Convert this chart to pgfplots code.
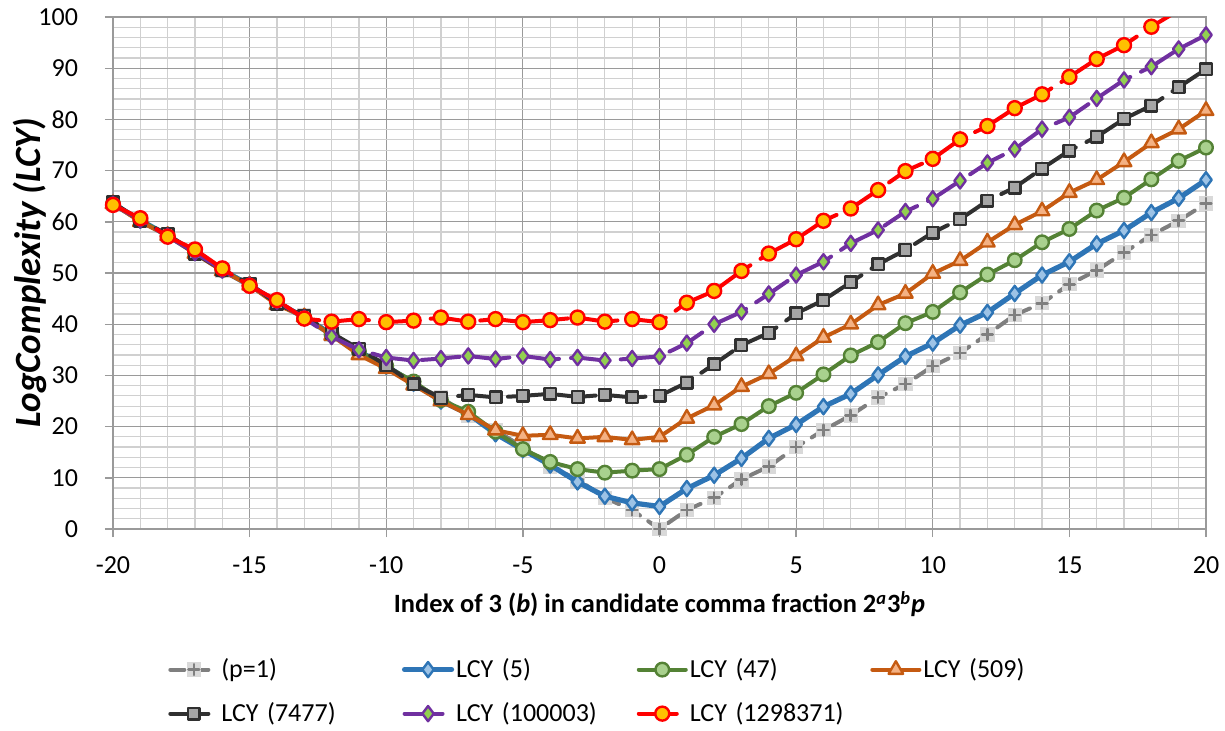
\documentclass[border=0pt]{standalone}
\usepackage{fontspec}
\setmainfont{Carlito}
\usepackage{pgfplots}
\pgfplotsset{compat=1.18}

\definecolor{cGray}{HTML}{7F7F7F}
\definecolor{cGrayF}{HTML}{D9D9D9}
\definecolor{cBlue}{HTML}{2E75B6}
\definecolor{cBlueF}{HTML}{9DC3E6}
\definecolor{cGreen}{HTML}{548235}
\definecolor{cGreenF}{HTML}{A9D18E}
\definecolor{cOrange}{HTML}{C55A11}
\definecolor{cOrangeF}{HTML}{F4B183}
\definecolor{cBlack}{HTML}{303030}
\definecolor{cBlackF}{HTML}{A6A6A6}
\definecolor{cPurple}{HTML}{7030A0}
\definecolor{cPurpleF}{HTML}{92D050}
\definecolor{cRed}{HTML}{FF0000}
\definecolor{cRedF}{HTML}{FFC000}
\definecolor{gridMajor}{HTML}{9A9A9A}
\definecolor{gridMinor}{HTML}{D0D0D0}

\pgfdeclareplotmark{boxplus}{%
  \pgfpathrectangle{\pgfpoint{-\pgfplotmarksize}{-\pgfplotmarksize}}{\pgfpoint{2\pgfplotmarksize}{2\pgfplotmarksize}}%
  \pgfsetfillcolor{cGrayF}%
  \pgfusepathqfill
  \pgfpathmoveto{\pgfpoint{-0.75\pgfplotmarksize}{0pt}}\pgfpathlineto{\pgfpoint{0.75\pgfplotmarksize}{0pt}}%
  \pgfpathmoveto{\pgfpoint{0pt}{-0.75\pgfplotmarksize}}\pgfpathlineto{\pgfpoint{0pt}{0.75\pgfplotmarksize}}%
  \pgfusepathqstroke
}

\pgfplotstableread{
b p1 c5 c47 c509 c7477 c100003 c1298371
-20 63.6 63.5 63.5 63.5 63.8 63.4 63.3
-19 60.2 60.3 60.3 60.0 60.2 60.4 60.7
-18 57.4 57.3 57.3 57.3 57.6 57.2 57.1
-17 54.0 54.0 54.0 53.8 53.8 54.0 54.6
-16 50.5 50.6 50.6 50.4 50.6 50.6 50.9
-15 47.8 47.6 47.6 47.6 47.9 47.6 47.5
-14 44.1 44.3 44.3 43.8 44.0 44.5 44.7
-13 41.8 41.3 41.3 41.4 41.6 41.2 41.1
-12 38.0 38.0 38.0 37.8 38.3 37.6 40.5
-11 34.4 34.7 34.7 34.0 35.2 35.0 41.0
-10 31.8 31.8 31.8 31.3 32.0 33.5 40.4
-9 28.3 28.5 28.8 28.1 28.3 32.9 40.7
-8 25.7 25.0 25.2 25.0 25.6 33.3 41.3
-7 22.2 22.5 22.9 22.3 26.2 33.8 40.5
-6 19.3 18.6 19.0 19.3 25.7 33.2 41.0
-5 16.0 15.5 15.6 18.2 26.0 33.8 40.4
-4 12.2 12.5 13.1 18.4 26.4 33.1 40.8
-3 9.7 9.2 11.7 17.7 25.8 33.5 41.3
-2 6.1 6.4 11.0 18.0 26.2 32.9 40.5
-1 3.7 5.1 11.4 17.4 25.7 33.3 41.0
0 0.0 4.4 11.7 18.0 26.0 33.7 40.4
1 3.7 7.9 14.5 21.6 28.6 36.3 44.2
2 6.1 10.5 18.0 24.2 32.2 40.0 46.5
3 9.7 13.8 20.5 27.8 35.9 42.4 50.4
4 12.2 17.7 24.0 30.3 38.3 45.9 53.8
5 16.0 20.4 26.6 33.8 42.1 49.6 56.6
6 19.3 23.9 30.2 37.4 44.7 52.2 60.2
7 22.2 26.4 33.9 40.0 48.2 55.8 62.6
8 25.7 30.1 36.5 43.75 51.7 58.4 66.2
9 28.3 33.7 40.2 46.0 54.5 62.0 69.9
10 31.8 36.3 42.4 49.9 57.9 64.5 72.3
11 34.4 39.8 46.2 52.4 60.5 68.0 76.1
12 38.0 42.3 49.7 56.0 64.1 71.5 78.7
13 41.8 46.0 52.5 59.4 66.7 74.2 82.2
14 44.1 49.6 56.0 62.1 70.4 78.1 84.9
15 47.8 52.2 58.6 65.7 73.9 80.4 88.3
16 50.5 55.7 62.2 68.2 76.6 84.1 91.8
17 54.0 58.3 64.7 71.7 80.1 87.7 94.5
18 57.4 61.8 68.3 75.4 82.7 90.3 98.1
19 60.2 64.6 71.9 78.1 86.3 93.75 101.3
20 63.6 68.2 74.5 81.7 89.8 96.5 104.6
}\datatable

\begin{document}
\begin{tikzpicture}
\begin{axis}[
  at={(0pt,0pt)}, anchor=south west,
  scale only axis,
  width=546.5pt, height=256pt,
  xmin=-20, xmax=20, ymin=0, ymax=100,
  xtick={-20,-15,...,20},
  ytick={0,10,...,100},
  minor x tick num=4,
  minor y tick num=4,
  grid=both,
  major grid style={draw=gridMajor, line width=0.6pt},
  minor grid style={draw=gridMinor, line width=0.6pt},
  axis line style={draw=gridMajor, line width=0.7pt},
  tick align=outside,
  major tick length=4pt,
  minor tick length=0pt,
  tick style={draw=gridMajor, line width=0.7pt},
  xtick pos=bottom, ytick pos=left,
  /pgf/number format/assume math mode=true,
  tick label style={font=\fontsize{13}{15}\selectfont},
  xticklabel style={yshift=-6.5pt},
  yticklabel style={xshift=-10pt},
  every axis y label/.style={at={(axis description cs:-0.0759,0.5)}, rotate=90, anchor=center},
  every axis x label/.style={at={(axis description cs:0.5,-0.1465)}, anchor=center},
  ylabel={\fontsize{18.5}{21}\selectfont\bfseries\itshape LogComplexity (LCY)},
  xlabel={\fontsize{13.2}{16}\selectfont\bfseries Index of 3 (\textit{b}) in candidate comma fraction 2\textsuperscript{\textit{a}}3\textsuperscript{\textit{b}}\textit{p}},
  clip mode=individual,
  legend columns=4,
  legend cell align=left,
  legend style={at={(axis description cs:0.0448,-0.2406)}, anchor=north west, draw=none, fill=none,
    font=\fontsize{13}{15.5}\selectfont,
    nodes={text width=89.3pt, inner sep=1pt, align=left},
    /tikz/every even column/.append style={column sep=0pt},
    row sep=9pt},
  legend image code/.code={%
    \draw[mark repeat=2,mark phase=2] plot coordinates {(0pt,0pt) (11.75pt,0pt) (23.5pt,0pt)};},
  every axis plot/.append style={line cap=round, line join=round},
]
\addplot[cGray, line width=2pt, dash pattern=on 7pt off 5pt, mark=boxplus, mark size=3.6pt,
  mark options={solid, draw=cGray, line width=1.3pt}] table[x=b,y=p1]{\datatable};
\addlegendentry{(p=1)}
\addplot[cBlue, line width=2.6pt, mark=diamond*, mark size=3.8pt,
  mark options={solid, fill=cBlueF, draw=cBlue, line width=1.2pt}] table[x=b,y=c5]{\datatable};
\addlegendentry{LCY (5)}
\addplot[cGreen, line width=2pt, mark=*, mark size=3.4pt,
  mark options={solid, fill=cGreenF, draw=cGreen, line width=1.2pt}] table[x=b,y=c47]{\datatable};
\addlegendentry{LCY (47)}
\addplot[cOrange, line width=2pt, mark=triangle*, mark size=4.2pt,
  mark options={solid, fill=cOrangeF, draw=cOrange, line width=1.2pt}] table[x=b,y=c509]{\datatable};
\addlegendentry{LCY (509)}
\addplot[cBlack, line width=2pt, dash pattern=on 19pt off 6pt, mark=square*, mark size=2.9pt,
  mark options={solid, fill=cBlackF, draw=cBlack, line width=1.2pt}] table[x=b,y=c7477]{\datatable};
\addlegendentry{LCY (7477)}
\addplot[cPurple, line width=2pt, dash pattern=on 19pt off 6pt, mark=diamond*, mark size=3.8pt,
  mark options={solid, fill=cPurpleF, draw=cPurple, line width=1.2pt}] table[x=b,y=c100003]{\datatable};
\addlegendentry{LCY (100003)}
\addplot[cRed, line width=2pt, dash pattern=on 19pt off 6pt, mark=*, mark size=3.5pt,
  mark options={solid, fill=cRedF, draw=cRed, line width=1.2pt}] table[x=b,y=c1298371]{\datatable};
\addlegendentry{LCY (1298371)}
\end{axis}
\pgfresetboundingbox
\path[use as bounding box] (-56.5pt,-100.5pt) rectangle (556pt,264.5pt);
\end{tikzpicture}
\end{document}
